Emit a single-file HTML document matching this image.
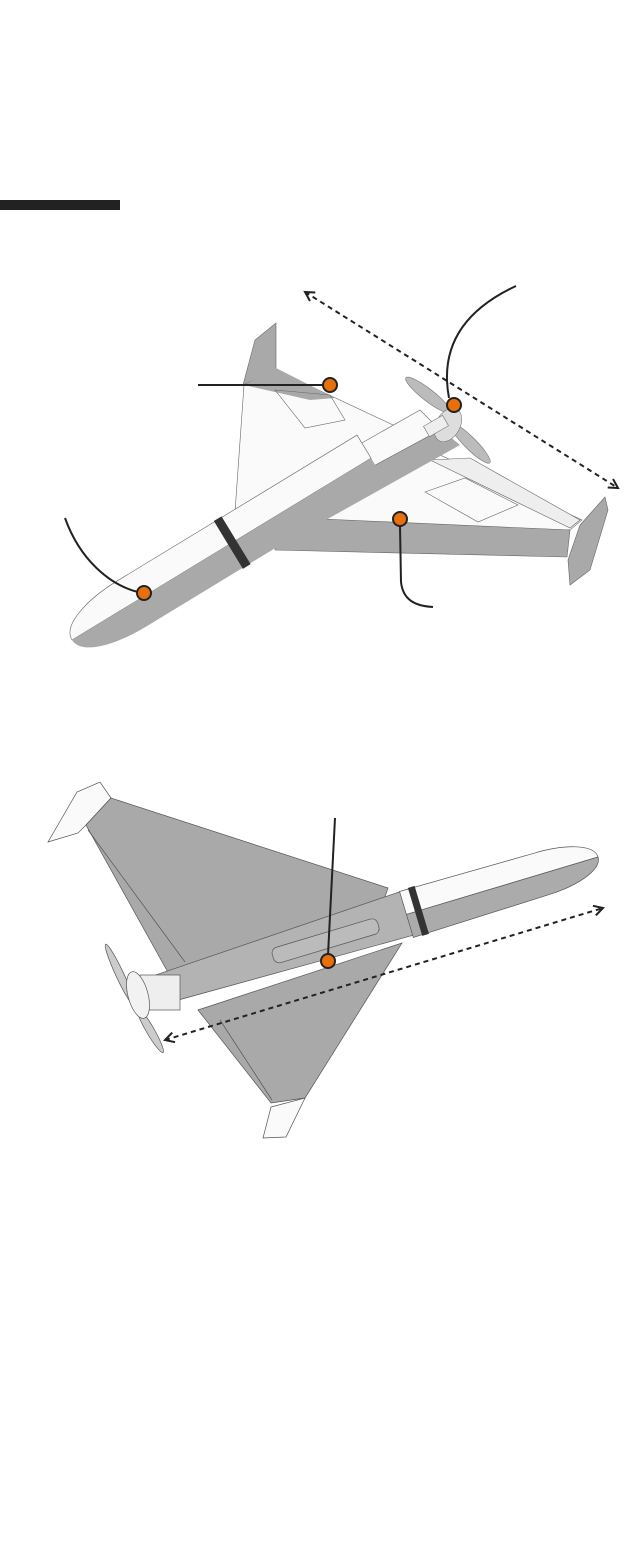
<!DOCTYPE html>
<html><head><meta charset="utf-8"><style>html,body{margin:0;padding:0;background:#fff;width:640px;height:1564px;overflow:hidden}</style></head>
<body>
<svg width="640" height="1564" viewBox="0 0 640 1564" xmlns="http://www.w3.org/2000/svg">
<defs>
<marker id="ah" viewBox="0 0 12 12" refX="10" refY="6" markerWidth="12" markerHeight="12" markerUnits="userSpaceOnUse" orient="auto-start-reverse">
<path d="M1,1 L10,6 L1,11" fill="none" stroke="#222" stroke-width="2"/></marker>
</defs>
<rect x="0" y="200" width="120" height="10" fill="#222"/>

<!-- TOP DRONE -->
<g stroke="#666" stroke-width="0.6">
<polygon points="243,385 255,340 276,323 276,370" fill="#a9a9a9"/>
<polygon points="244,385 276,370 425,440 270,500 235,512" fill="#fafafa"/>
<polygon points="244,385 276,368 335,398 310,400" fill="#a9a9a9" stroke="none"/>
<polygon points="275,390 330,395 345,420 305,428" fill="none"/>
<polygon points="286,505 400,470 440,455 582,520 570,530 300,520" fill="#fafafa"/>
<polygon points="276,520 300,518 570,530 567,557 275,550" fill="#a9a9a9"/>
<polygon points="425,492 465,478 518,505 478,522" fill="none"/>
<polygon points="430,460 470,458 580,520 570,528" fill="#eee"/>
<polygon points="568,560 580,525 605,497 608,510 590,570 570,585" fill="#a9a9a9"/>
</g>
<polygon points="270,520 430,420 460,445 290,540" fill="#a9a9a9"/>
<polygon points="300,478 420,410 440,430 320,495" fill="#fafafa" stroke="#666" stroke-width="0.6"/>
<g transform="translate(72,640) rotate(-31.3)">
<path d="M0,0 C0,-18 35,-27 70,-27 L350,-27 L350,0 Z" fill="#fafafa" stroke="#666" stroke-width="0.6"/>
<path d="M0,0 C0,18 35,27 70,27 L350,27 L350,0 Z" fill="#a9a9a9"/>
<rect x="183" y="-28" width="9" height="56" fill="#333"/>
</g>
<g stroke="#777" stroke-width="0.6" fill="#bbb">
<ellipse cx="428" cy="395" rx="28" ry="6" transform="rotate(38 428 395)"/>
<ellipse cx="470" cy="443" rx="28" ry="6" transform="rotate(45 470 443)"/>
<ellipse cx="448" cy="425" rx="12" ry="18" fill="#ddd" transform="rotate(30 448 425)"/>
<rect x="425" y="420" width="22" height="12" fill="#eee" transform="rotate(-30 436 426)"/>
</g>

<g fill="none" stroke="#222" stroke-width="2">
<line x1="198" y1="385" x2="323" y2="385"/>
<path d="M516,286 C460,312 440,350 449,398"/>
<path d="M65,518 C80,560 110,585 138,592"/>
<path d="M400,526 L401,582 C403,600 415,606 433,607"/>
<line x1="305" y1="292" x2="618" y2="488" stroke-dasharray="5,4" marker-start="url(#ah)" marker-end="url(#ah)"/>
</g>

<!-- BOTTOM DRONE -->
<g stroke="#555" stroke-width="0.7">
<polygon points="48,842 77,792 100,782 111,798 86,825 78,833" fill="#fafafa"/>
<path d="M86,825 L111,798 L388,888 L378,918 Q330,955 175,985 Z" fill="#a9a9a9"/>
<polygon points="198,1010 402,943 305,1098 271,1103" fill="#a9a9a9"/>
<polygon points="271,1107 305,1098 286,1137 263,1138" fill="#fafafa"/>
<line x1="88" y1="830" x2="185" y2="962"/>
<line x1="220" y1="1020" x2="272" y2="1100"/>
</g>
<g transform="translate(598,857) rotate(-16.7)">
<path d="M-460,-14 L-190,-24 L-190,22 L-460,16 Z" fill="#b3b3b3" stroke="#555" stroke-width="0.7"/>
<rect x="-340" y="-6" width="110" height="16" rx="6" fill="#bbb" stroke="#555" stroke-width="0.7"/>
<path d="M0,0 C0,-14 -30,-22 -60,-22 L-200,-24 L-200,0 Z" fill="#fafafa" stroke="#555" stroke-width="0.7"/>
<path d="M0,0 C0,14 -30,22 -60,22 L-200,24 L-200,0 Z" fill="#ababab" stroke="#555" stroke-width="0.7"/>
<rect x="-191" y="-25" width="7" height="50" fill="#333"/>
</g>
<g stroke="#555" stroke-width="0.7">
<ellipse cx="120" cy="975" rx="4" ry="34" fill="#ccc" transform="rotate(-25 120 975)"/>
<ellipse cx="150" cy="1030" rx="4" ry="26" fill="#ccc" transform="rotate(-30 150 1030)"/>
<rect x="140" y="975" width="40" height="35" fill="#eee"/>
<ellipse cx="138" cy="995" rx="10" ry="24" fill="#f2f2f2" transform="rotate(-15 138 995)"/>
</g>
<g fill="none" stroke="#222" stroke-width="2">
<line x1="335" y1="818" x2="328" y2="955"/>
<line x1="165" y1="1040" x2="603" y2="908" stroke-dasharray="5,4" marker-start="url(#ah)" marker-end="url(#ah)"/>
</g>

<g fill="#e8700a" stroke="#222" stroke-width="2">
<circle cx="330" cy="385" r="7"/>
<circle cx="454" cy="405" r="7"/>
<circle cx="144" cy="593" r="7"/>
<circle cx="400" cy="519" r="7"/>
<circle cx="328" cy="961" r="7"/>
</g>
</svg>
</body></html>
